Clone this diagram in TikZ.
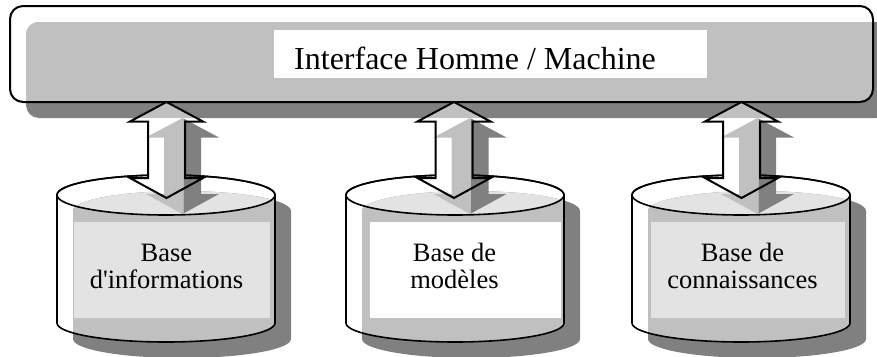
\documentclass[tikz,border=0pt]{standalone}
\usepackage{fontspec}
\setmainfont{Liberation Serif}[Ligatures=TeXOff]
\definecolor{lg}{HTML}{C0C0C0}
\definecolor{dg}{HTML}{808080}
\definecolor{vlg}{HTML}{E3E3E3}
% double arrow, starting at its top tip
\newcommand\dblarr[1]{(#1) -- ++(36.5,19.5) -- ++(-18,0) -- ++(0,56.5) -- ++(18,0) -- ++(-36.5,20) -- ++(-36.5,-20) -- ++(18,0) -- ++(0,-56.5) -- ++(-18,0) -- cycle}
% cylinder silhouette: left x, top-ellipse centre y
\newcommand\cylsil[2]{({#1},{#2}) arc[start angle=180,end angle=0,x radius=109pt,y radius=20pt] -- ++(0,128) arc[start angle=0,end angle=-180,x radius=109pt,y radius=19pt] -- cycle}
\newcommand\cylbody[2]{({#1},{#2}) -- ++(0,128) arc[start angle=180,end angle=360,x radius=109pt,y radius=19pt] -- ++(0,-128) -- cycle}
\tikzset{
  barline/.style={draw=black,line width=2pt},
  cylline/.style={draw=black,line width=1.6pt},
  arrline/.style={draw=black,line width=2pt,line join=miter},
  lab/.style={font=\fontsize{26.5}{26.5}\selectfont,align=center,inner sep=0pt},
}
\begin{document}
\begin{tikzpicture}[x=1pt,y=-1pt]
\useasboundingbox (0,0) rectangle (877,356);
\clip (0,0) rectangle (877,356);

% ---- bar: shadow and fill
\fill[dg,rounded corners=13pt] (26,22) rectangle (889,118);
\begin{scope}
  \clip[rounded corners=13pt] (10,6) rectangle (873,102);
  \fill[lg,rounded corners=13pt] (26,22) rectangle (889,118);
\end{scope}
\node[fill=white,minimum width=433pt,minimum height=48pt,inner sep=0pt] (ihmbox) at (490.5,54) {};
\node[font=\fontsize{32}{34}\selectfont,anchor=base,inner sep=0pt] (ihm) at (475,69) {Interface Homme / Machine};
\node[barline,rounded corners=13pt,minimum width=863pt,minimum height=96pt,inner sep=0pt] (bar) at (441.5,54) {};

% ---- cylinders: shadow and fills
\foreach \L in {57,346,632}{
  \fill[dg] \cylsil{\L+16}{211};
  \begin{scope}
    \clip \cylbody{\L}{195};
    \fill[lg] \cylsil{\L+16}{211};
  \end{scope}
  \begin{scope}
    \clip ({\L+109},195) ellipse[x radius=109pt,y radius=20pt];
    \fill[vlg] \cylsil{\L+16}{211};
  \end{scope}
}
\node[fill=vlg,minimum width=196pt,minimum height=96pt,inner sep=0pt,anchor=north west] (box1) at (74,222) {};
\node[fill=white,minimum width=191pt,minimum height=96pt,inner sep=0pt,anchor=north west] (box2) at (370,222) {};
\node[fill=vlg,minimum width=194pt,minimum height=96pt,inner sep=0pt,anchor=north west] (box3) at (650.5,222) {};
\node[lab,anchor=base] (t1) at (166.5,288) {Base\\d'informations};
\node[lab,anchor=base] (t2) at (454.5,288) {Base de\\modèles};
\node[lab,anchor=base] (t3) at (742.5,288) {Base de\\connaissances};

% ---- arrow anchors
\coordinate (a1) at (166.5,102);
\coordinate (a2) at (454,102);
\coordinate (a3) at (741.5,102);
\coordinate (s1) at (182.5,118);
\coordinate (s2) at (470,118);
\coordinate (s3) at (757.5,118);

% ---- arrow shadows
\foreach \c/\n in {166.5/1,454/2,741.5/3}{
  \begin{scope}
    \clip ({\c-60},0) rectangle ({\c+17},356);
    \fill[lg] \dblarr{s\n};
  \end{scope}
  \begin{scope}
    \clip ({\c+17},0) rectangle ({\c+60},356);
    \fill[dg] \dblarr{s\n};
  \end{scope}
}

% ---- cylinder outlines
\foreach \L in {57,346,632}{
  \draw[cylline] \cylsil{\L}{195};
  \draw[cylline] ({\L+109},195) ellipse[x radius=109pt,y radius=20pt];
}

% ---- arrows
\foreach \c/\n in {166.5/1,454/2,741.5/3}{
  \fill[white] \dblarr{a\n};
  \begin{scope}
    \clip \dblarr{a\n};
    \fill[lg] (0,102) rectangle (877,118);
    \begin{scope}
      \clip ({\c-60},0) rectangle ({\c+17},356);
      \fill[lg] \dblarr{s\n};
    \end{scope}
    \begin{scope}
      \clip ({\c+17},0) rectangle ({\c+60},356);
      \fill[dg] \dblarr{s\n};
    \end{scope}
  \end{scope}
  \draw[arrline] \dblarr{a\n};
}
\end{tikzpicture}
\end{document}
